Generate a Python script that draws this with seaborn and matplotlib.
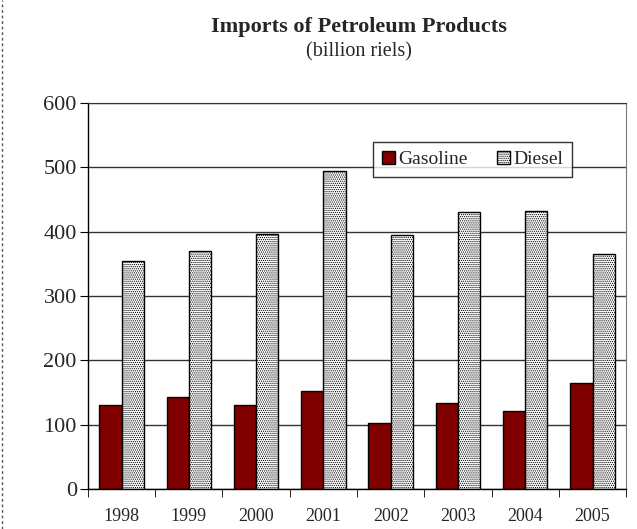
import pandas as pd
import numpy as np
import matplotlib.pyplot as plt
import seaborn as sns
from matplotlib.lines import Line2D

# data (billion riels)
years = ['1998', '1999', '2000', '2001', '2002', '2003', '2004', '2005']
gasoline = [130, 143, 130, 153, 103, 133, 122, 165]
diesel = [355, 370, 396, 495, 395, 430, 433, 366]

df = pd.DataFrame({
    'year': years * 2,
    'value': gasoline + diesel,
    'fuel': ['Gasoline'] * len(years) + ['Diesel'] * len(years),
})

sns.set_style('white')
plt.rcParams['font.family'] = ['Liberation Serif', 'DejaVu Serif']
plt.rcParams['hatch.color'] = '#a0a0a0'
plt.rcParams['hatch.linewidth'] = 0.6

fig = plt.figure(figsize=(6.37, 5.29), dpi=100)
ax = fig.add_axes([0.138, 0.0756, 0.845, 0.7294])

sns.barplot(data=df, x='year', y='value', hue='fuel', ax=ax,
            palette={'Gasoline': '#800000', 'Diesel': 'white'},
            edgecolor='black', linewidth=1, width=0.66, saturation=1)

for bar in ax.containers[1]:
    bar.set_hatch('........')

ax.set_ylim(0, 600)
ax.set_xlim(-0.5, len(years) - 0.5)
ax.set_yticks(range(0, 601, 100))
ax.yaxis.grid(True, color='#333333', linewidth=1)
ax.set_axisbelow(True)
ax.set_xlabel('')
ax.set_ylabel('')

# ticks between categories, labels centred
ax.set_xticks(np.arange(-0.5, len(years)), minor=True)
ax.tick_params(axis='x', which='major', length=0, pad=14, labelsize=13)
ax.tick_params(axis='x', which='minor', length=6, direction='out', color='black', bottom=True)
ax.tick_params(axis='y', length=6, direction='out', color='black', left=True, labelsize=16, pad=2)

for side in ['left', 'bottom']:
    ax.spines[side].set_color('black')
    ax.spines[side].set_linewidth(1)
ax.spines['top'].set_color('#333333')
ax.spines['right'].set_color('#777777')

leg = ax.legend(ncol=2, loc='upper right', bbox_to_anchor=(0.918, 0.925),
                fontsize=14, frameon=True, fancybox=False, shadow=False,
                handlelength=0.65, handleheight=0.65, handletextpad=0.2,
                columnspacing=1.5, borderpad=0.45)
leg.get_frame().set_edgecolor('black')
leg.get_frame().set_linewidth(1)
leg.legend_handles[1].set_hatch('........')

fig.text(0.563, 0.94, 'Imports of Petroleum Products', ha='center',
         fontsize=16, fontweight='bold')
fig.text(0.563, 0.893, '(billion riels)', ha='center', fontsize=14.5)

# dashed page edge on the left
fig.add_artist(Line2D([0.003, 0.003], [0, 1], transform=fig.transFigure,
                      color='#555555', linewidth=1, linestyle=(0, (2, 2))))

fig.savefig('out.png', dpi=100)
